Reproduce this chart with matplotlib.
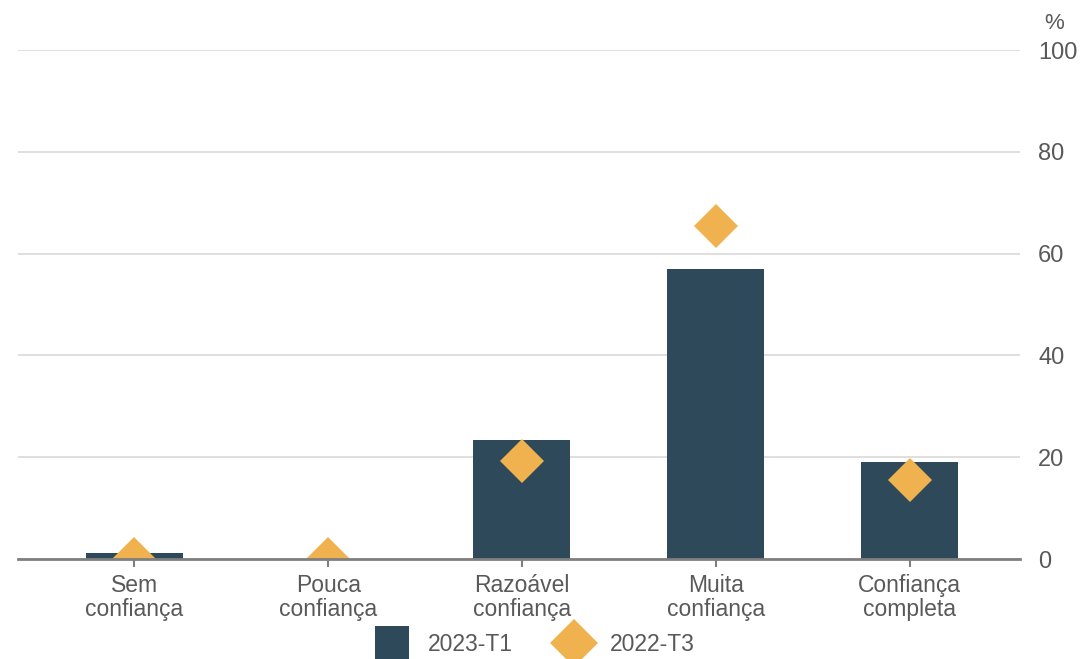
import numpy as np
import matplotlib.pyplot as plt
from matplotlib.lines import Line2D

plt.rcParams['font.family'] = ['Liberation Sans', 'DejaVu Sans']

# 数据
categories = ['Sem\nconfiança', 'Pouca\nconfiança', 'Razoável\nconfiança',
              'Muita\nconfiança', 'Confiança\ncompleta']
t2023_t1 = [1.2, 0.0, 23.4, 57.0, 19.1]
t2022_t3 = [0.0, 0.0, 19.3, 65.4, 15.5]
y_ticks = [0, 20, 40, 60, 80, 100]

bar_color = '#2E4A5A'
dia_color = '#F0B24F'
txt_color = '#595959'

fig = plt.figure(figsize=(10.81, 6.59), dpi=100)
ax = fig.add_axes([0.0167, 0.1517, 0.9269, 0.7723])

x = np.arange(len(categories))
ax.bar(x, t2023_t1, width=0.5, color=bar_color, zorder=2)
ax.plot(x, t2022_t3, linestyle='none', marker='D', markersize=22,
        color=dia_color, markeredgewidth=0, zorder=3)

ax.set_xlim(-0.6, 4.57)
ax.set_ylim(0, 100)
ax.set_yticks(y_ticks)
ax.yaxis.tick_right()
ax.tick_params(axis='y', length=0, pad=13, labelsize=17, labelcolor=txt_color)
ax.grid(axis='y', color='#D9D9D9', linewidth=1.2, zorder=0)
ax.set_axisbelow(True)

ax.set_xticks(x)
ax.set_xticklabels(categories, fontsize=16.5, color=txt_color, linespacing=1.05)
ax.tick_params(axis='x', length=6, width=1.5, color='#7F7F7F', pad=5)

for s in ['top', 'left', 'right']:
    ax.spines[s].set_visible(False)
ax.spines['bottom'].set_color('#7F7F7F')
ax.spines['bottom'].set_linewidth(2)
ax.spines['bottom'].set_zorder(4)

fig.text(0.975, 0.965, '%', ha='center', va='center', fontsize=16, color=txt_color)

handles = [Line2D([], [], linestyle='none', marker='s', markersize=25,
                  color=bar_color, markeredgewidth=0),
           Line2D([], [], linestyle='none', marker='D', markersize=24,
                  color=dia_color, markeredgewidth=0)]
fig.legend(handles, ['2023-T1', '2022-T3'], loc='center', ncol=2,
           bbox_to_anchor=(0.492, 0.022), frameon=False, fontsize=16.5,
           labelcolor=txt_color, columnspacing=1.7, handletextpad=0.55)

plt.savefig('out.png', dpi=100)
